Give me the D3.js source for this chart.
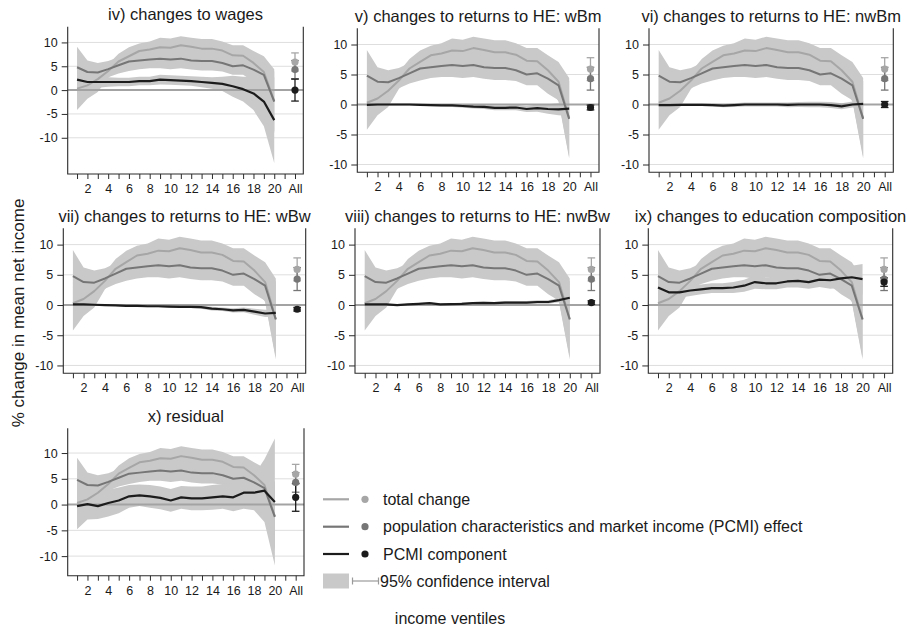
<!DOCTYPE html>
<html>
<head>
<meta charset="utf-8">
<script src="https://cdn.jsdelivr.net/npm/d3@7/dist/d3.min.js"></script>
<style>
  html, body { margin: 0; padding: 0; background: #fff; }
  svg { display: block; font-family: "Liberation Sans", Arial, sans-serif; }
</style>
</head>
<body>
<svg id="chart" width="911" height="630"></svg>
<script>
// ---- data ---------------------------------------------------------------
const ventiles = d3.range(1, 21);
const xTickValues = d3.range(1, 23);
const xTickText = { 2: "2", 4: "4", 6: "6", 8: "8", 10: "10", 12: "12", 14: "14", 16: "16", 18: "18", 20: "20", 22: "All" };
const yTickValues = [-10, -5, 0, 5, 10];

// total change and PCMI effect, shared by every panel
const totalChange      = [0.3, 1.0, 2.3, 4.0, 6.0, 7.1, 8.2, 8.5, 9.0, 8.9, 9.4, 9.1, 8.7, 8.7, 8.3, 7.3, 7.2, 5.7, 3.8, -2.3];
const totalHalfCI      = [4.5, 2.8, 2.7, 1.4, 1.6, 1.9, 1.6, 1.7, 2.0, 1.9, 1.9, 1.9, 2.0, 2.0, 1.9, 2.1, 2.2, 2.5, 3.3, 6.7];
const pcmiEffect       = [4.8, 3.8, 3.7, 4.4, 5.2, 6.0, 6.2, 6.4, 6.6, 6.4, 6.6, 6.2, 6.1, 6.1, 5.7, 5.0, 5.2, 4.3, 3.2, -2.4];
const pcmiEffectHalfCI = [4.3, 2.4, 2.0, 1.7, 1.7, 2.0, 1.8, 1.8, 2.0, 2.0, 2.0, 1.9, 2.0, 2.0, 1.8, 1.8, 2.0, 2.5, 2.5, 6.3];
const totalAll = 5.9, totalAllHalfCI = 1.9;
const pcmiEffectAll = 4.3, pcmiEffectAllHalfCI = 1.9;

// PCMI components, one per panel
const panelTitles = [
  "iv) changes to wages",
  "v) changes to returns to HE: wBm",
  "vi) changes to returns to HE: nwBm",
  "vii) changes to returns to HE: wBw",
  "viii) changes to returns to HE: nwBw",
  "ix) changes to education composition",
  "x) residual"
];
const wagesComponent     = [2.2, 1.7, 1.7, 1.7, 1.7, 1.7, 1.9, 1.9, 2.2, 2.1, 2.0, 1.9, 1.7, 1.5, 1.3, 0.8, 0.2, -0.7, -2.4, -6.3];
const wagesHalfCI        = [2.0, 1.5, 1.2, 1.0, 0.9, 0.9, 0.9, 0.9, 1.0, 1.0, 1.0, 1.0, 1.1, 1.2, 1.5, 2.2, 2.6, 3.5, 5.2, 9.0];
const wBmComponent       = [-0.05, 0, 0, 0, 0, -0.05, -0.1, -0.15, -0.15, -0.25, -0.35, -0.4, -0.55, -0.55, -0.5, -0.75, -0.6, -0.75, -0.8, -0.7];
const wBmHalfCI          = [0.1, 0.1, 0.1, 0.1, 0.1, 0.15, 0.2, 0.2, 0.25, 0.3, 0.3, 0.35, 0.4, 0.4, 0.45, 0.5, 0.6, 0.8, 1.0, 1.2];
const nwBmComponent      = [-0.1, -0.1, -0.05, -0.05, -0.05, -0.1, -0.2, -0.1, 0, 0, 0, 0, -0.05, 0, 0, 0, -0.1, -0.3, 0, 0.1];
const nwBmHalfCI         = [0.2, 0.2, 0.2, 0.2, 0.2, 0.25, 0.25, 0.3, 0.35, 0.35, 0.35, 0.35, 0.4, 0.4, 0.45, 0.45, 0.5, 0.5, 0.5, 0.5];
const wBwComponent       = [0.1, 0.1, 0.05, 0, -0.05, -0.15, -0.15, -0.2, -0.2, -0.25, -0.3, -0.3, -0.35, -0.6, -0.7, -0.9, -0.8, -1.1, -1.4, -1.3];
const wBwHalfCI          = [0.1, 0.1, 0.1, 0.1, 0.1, 0.1, 0.15, 0.15, 0.15, 0.2, 0.2, 0.2, 0.25, 0.3, 0.3, 0.35, 0.4, 0.5, 0.6, 0.7];
const nwBwComponent      = [0.1, 0.1, 0.1, 0.0, 0.1, 0.2, 0.3, 0.1, 0.15, 0.2, 0.3, 0.35, 0.3, 0.4, 0.4, 0.4, 0.5, 0.5, 0.8, 1.2];
const nwBwHalfCI         = [0.1, 0.1, 0.1, 0.1, 0.1, 0.15, 0.15, 0.15, 0.15, 0.2, 0.2, 0.2, 0.2, 0.25, 0.25, 0.25, 0.3, 0.3, 0.35, 0.4];
const educationComponent = [2.9, 2.1, 2.1, 2.4, 2.6, 2.8, 2.8, 2.9, 3.2, 3.8, 3.6, 3.6, 3.9, 4.0, 3.8, 4.2, 4.1, 4.4, 4.6, 4.3];
const educationHalfCI    = [1.0, 0.9, 0.9, 0.9, 0.8, 0.8, 0.8, 0.9, 1.0, 1.1, 1.0, 1.0, 1.0, 1.1, 1.1, 1.2, 1.4, 1.6, 1.9, 2.5];
const residualComponent  = [-0.3, 0.1, -0.3, 0.3, 0.8, 1.6, 1.8, 1.6, 1.3, 0.8, 1.4, 1.2, 1.2, 1.4, 1.6, 1.4, 2.3, 2.3, 2.7, 0.5];
const residualHalfCI     = [4.5, 3.0, 2.5, 2.6, 2.5, 2.2, 2.1, 2.2, 2.2, 2.2, 2.2, 2.3, 2.3, 2.4, 2.4, 2.7, 3.1, 3.4, 6.1, 12.3];
const componentAll       = [0.0, -0.5, 0.0, -0.7, 0.4, 3.8, 1.4];
const componentAllHalfCI = [2.3, 0.4, 0.5, 0.3, 0.3, 0.7, 2.7];

const legendLabels = [
  "total change",
  "population characteristics and market income (PCMI) effect",
  "PCMI component",
  "95% confidence interval"
];
const yTitle = "% change in mean net income";
const xTitle = "income ventiles";

// ---- styling ------------------------------------------------------------
const col = {
  band: "#c9c9c9",
  total: "#a6a6a6",
  effect: "#767676",
  component: "#1c1c1c",
  grid: "#dedede",
  zero: "#a3a3a3",
  axis: "#2b2b2b",
  text: "#1a1a1a"
};

// plot-region frames: [left, right, top, bottom] and y extent of each panel
const frames = [
  { x0: 67.7,  x1: 303.3, y0: 26.7,  y1: 174.0, yMin: -17.6, yMax: 13.3 },
  { x0: 357.3, x1: 599.0, y0: 28.3,  y1: 172.3, yMin: -11.3, yMax: 12.7 },
  { x0: 649.0, x1: 893.3, y0: 28.3,  y1: 172.3, yMin: -11.3, yMax: 12.7 },
  { x0: 63.3,  x1: 305.7, y0: 228.3, y1: 373.3, yMin: -11.3, yMax: 12.7 },
  { x0: 355.0, x1: 600.0, y0: 228.3, y1: 373.3, yMin: -11.3, yMax: 12.7 },
  { x0: 648.3, x1: 892.7, y0: 228.3, y1: 373.3, yMin: -11.3, yMax: 12.7 },
  { x0: 67.7,  x1: 304.0, y0: 428.3, y1: 575.7, yMin: -13.8, yMax: 14.8 }
];

const components = [
  [wagesComponent, wagesHalfCI],
  [wBmComponent, wBmHalfCI],
  [nwBmComponent, nwBmHalfCI],
  [wBwComponent, wBwHalfCI],
  [nwBwComponent, nwBwHalfCI],
  [educationComponent, educationHalfCI],
  [residualComponent, residualHalfCI]
];

const svg = d3.select("#chart");

function drawPanel(i) {
  const f = frames[i];
  const [comp, compCI] = components[i];
  const x = d3.scaleLinear().domain([0.1, 22.8]).range([f.x0, f.x1]);
  const y = d3.scaleLinear().domain([f.yMin, f.yMax]).range([f.y1, f.y0]);
  const g = svg.append("g");

  // gridlines
  g.selectAll("line.grid").data(yTickValues.filter(v => v !== 0)).join("line")
    .attr("x1", f.x0).attr("x2", f.x1)
    .attr("y1", d => y(d)).attr("y2", d => y(d))
    .attr("stroke", col.grid).attr("stroke-width", 1);

  // confidence bands
  const band = (vals, hw) => d3.area()
    .x((d, k) => x(ventiles[k]))
    .y0((d, k) => y(vals[k] - hw[k]))
    .y1((d, k) => y(vals[k] + hw[k]))(vals);
  [[totalChange, totalHalfCI], [pcmiEffect, pcmiEffectHalfCI], [comp, compCI]].forEach(([v, h]) => {
    g.append("path").attr("d", band(v, h)).attr("fill", col.band);
  });

  // zero line
  g.append("line").attr("x1", f.x0).attr("x2", f.x1)
    .attr("y1", y(0)).attr("y2", y(0))
    .attr("stroke", col.zero).attr("stroke-width", 2);

  // series lines
  const line = vals => d3.line().x((d, k) => x(ventiles[k])).y(d => y(d))(vals);
  g.append("path").attr("d", line(totalChange)).attr("fill", "none")
    .attr("stroke", col.total).attr("stroke-width", 2).attr("stroke-linejoin", "round");
  g.append("path").attr("d", line(pcmiEffect)).attr("fill", "none")
    .attr("stroke", col.effect).attr("stroke-width", 2).attr("stroke-linejoin", "round");
  g.append("path").attr("d", line(comp)).attr("fill", "none")
    .attr("stroke", col.component).attr("stroke-width", 2.2).attr("stroke-linejoin", "round");

  // "All" estimates with 95% intervals
  const xa = x(22);
  const allPts = [
    { v: totalAll, h: totalAllHalfCI, c: col.total },
    { v: pcmiEffectAll, h: pcmiEffectAllHalfCI, c: col.effect },
    { v: componentAll[i], h: componentAllHalfCI[i], c: col.component }
  ];
  allPts.forEach(p => {
    const e = g.append("g").attr("stroke", p.c).attr("stroke-width", 1.3);
    e.append("line").attr("x1", xa).attr("x2", xa).attr("y1", y(p.v - p.h)).attr("y2", y(p.v + p.h));
    e.append("line").attr("x1", xa - 3.8).attr("x2", xa + 3.8).attr("y1", y(p.v - p.h)).attr("y2", y(p.v - p.h));
    e.append("line").attr("x1", xa - 3.8).attr("x2", xa + 3.8).attr("y1", y(p.v + p.h)).attr("y2", y(p.v + p.h));
  });
  allPts.forEach(p => {
    g.append("circle").attr("cx", xa).attr("cy", y(p.v)).attr("r", 3.6).attr("fill", p.c);
  });

  // axes
  const yAxis = g.append("g").attr("transform", `translate(${f.x0},0)`)
    .call(d3.axisLeft(y).tickValues(yTickValues).tickSize(6).tickSizeOuter(0).tickPadding(4)
      .tickFormat(d => d < 0 ? "-" + Math.abs(d) : String(d)));
  const xAxis = g.append("g").attr("transform", `translate(0,${f.y1})`)
    .call(d3.axisBottom(x).tickValues(xTickValues).tickSize(5).tickSizeOuter(0).tickPadding(5)
      .tickFormat(d => xTickText[d] || ""));
  [yAxis, xAxis].forEach(a => {
    a.select(".domain").remove();
    a.selectAll(".tick line").attr("stroke", col.axis).attr("stroke-width", 1);
    a.selectAll(".tick text").attr("fill", col.text).attr("font-size", 12.5)
      .attr("font-family", "Liberation Sans, Arial, sans-serif");
  });
  // frame: left, bottom and right edges
  g.append("path")
    .attr("d", `M${f.x0},${f.y0}V${f.y1}H${f.x1}V${f.y0}`)
    .attr("fill", "none").attr("stroke", col.axis).attr("stroke-width", 1.1);

  // title
  g.append("text").attr("x", (f.x0 + f.x1) / 2).attr("y", f.y0 - 6.5)
    .attr("text-anchor", "middle").attr("font-size", 16.5).attr("fill", col.text)
    .text(panelTitles[i]);
}

frames.forEach((f, i) => drawPanel(i));

// y axis title
svg.append("text")
  .attr("transform", "translate(24,313) rotate(-90)")
  .attr("text-anchor", "middle").attr("font-size", 17).attr("fill", col.text)
  .text(yTitle);

// legend
const lg = svg.append("g");
const rowY = [499.3, 526.7, 554, 581];
const legendColors = [col.total, col.effect, col.component];
legendColors.forEach((c, k) => {
  lg.append("line").attr("x1", 323).attr("x2", 349).attr("y1", rowY[k]).attr("y2", rowY[k])
    .attr("stroke", c).attr("stroke-width", 2.2);
  lg.append("circle").attr("cx", 365).attr("cy", rowY[k]).attr("r", 3.6).attr("fill", c);
});
lg.append("rect").attr("x", 323).attr("y", rowY[3] - 7.5).attr("width", 26).attr("height", 15).attr("fill", col.band);
const eb = lg.append("g").attr("stroke", "#9a9a9a").attr("stroke-width", 1.2);
eb.append("line").attr("x1", 352.5).attr("x2", 378.5).attr("y1", rowY[3]).attr("y2", rowY[3]);
eb.append("line").attr("x1", 352.5).attr("x2", 352.5).attr("y1", rowY[3] - 3.5).attr("y2", rowY[3] + 3.5);
eb.append("line").attr("x1", 378.5).attr("x2", 378.5).attr("y1", rowY[3] - 3.5).attr("y2", rowY[3] + 3.5);
legendLabels.forEach((t, k) => {
  lg.append("text").attr("x", k === 3 ? 380 : 383).attr("y", rowY[k]).attr("dy", "0.35em")
    .attr("font-size", 16).attr("fill", col.text).text(t);
});

// x axis title
svg.append("text").attr("x", 450).attr("y", 618).attr("dy", "0.35em")
  .attr("text-anchor", "middle").attr("font-size", 16).attr("fill", col.text)
  .text(xTitle);
</script>
</body>
</html>
